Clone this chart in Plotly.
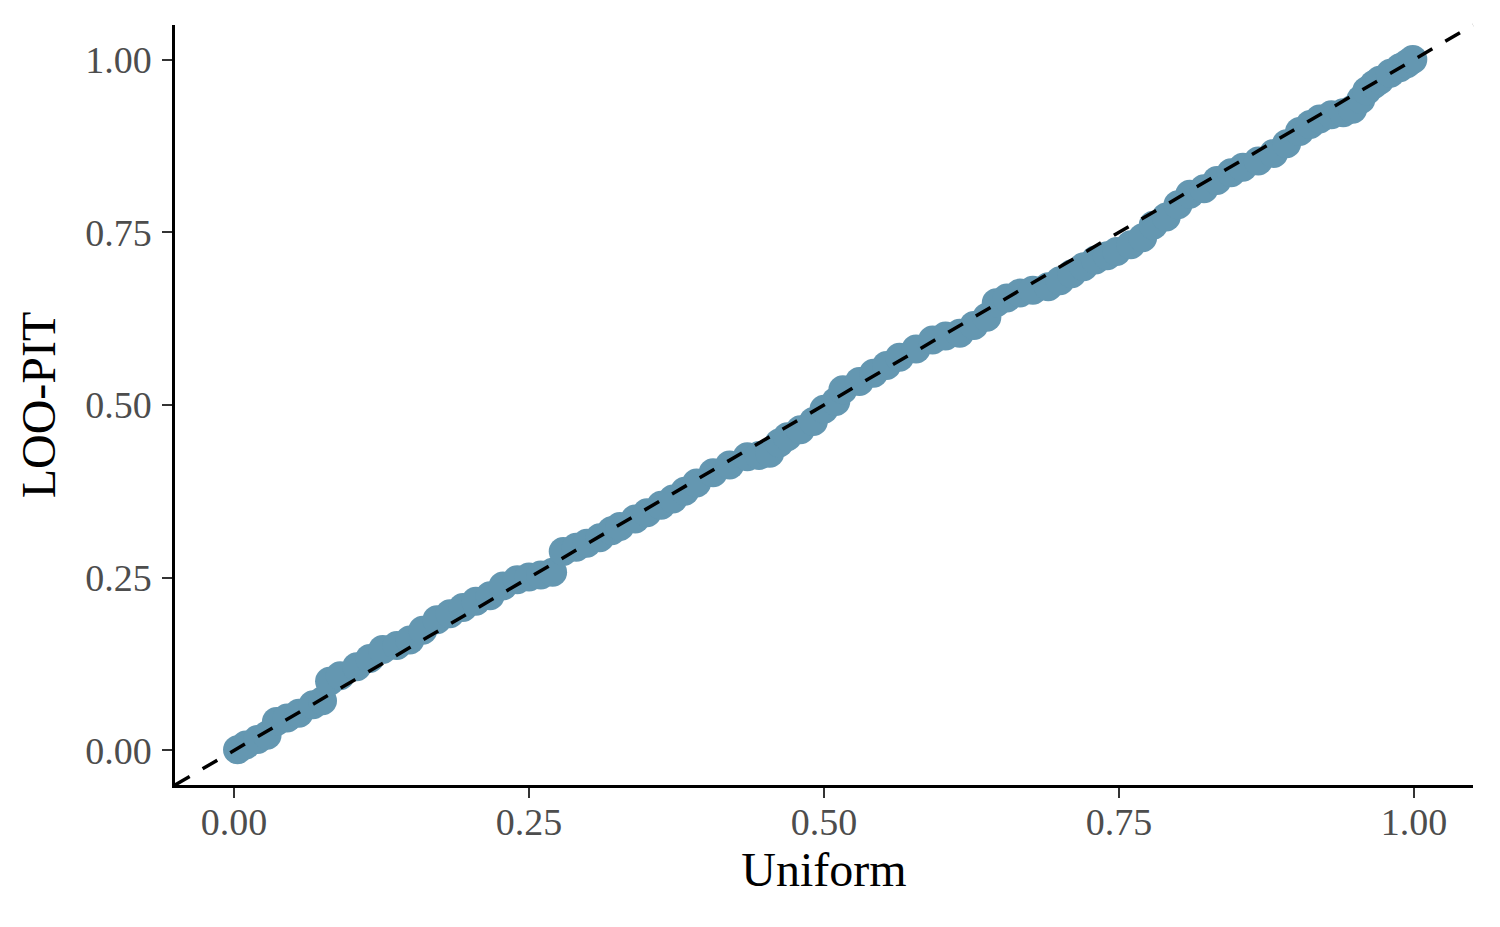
import plotly.graph_objects as go

uniform_q = [0.003, 0.010, 0.020, 0.028, 0.036, 0.045, 0.055, 0.067, 0.075, 0.081,
             0.090, 0.104, 0.115, 0.126, 0.138, 0.149, 0.160, 0.172, 0.183, 0.194,
             0.205, 0.217, 0.228, 0.240, 0.250, 0.260, 0.270, 0.279, 0.290, 0.299,
             0.310, 0.320, 0.327, 0.340, 0.350, 0.362, 0.372, 0.382, 0.392, 0.406,
             0.420, 0.435, 0.445, 0.454, 0.462, 0.469, 0.480, 0.491, 0.500, 0.510,
             0.516, 0.530, 0.542, 0.553, 0.564, 0.578, 0.592, 0.603, 0.615, 0.627,
             0.638, 0.646, 0.655, 0.666, 0.677, 0.690, 0.700, 0.710, 0.720, 0.730,
             0.740, 0.748, 0.760, 0.770, 0.779, 0.790, 0.800, 0.810, 0.822, 0.833,
             0.845, 0.855, 0.868, 0.881, 0.892, 0.903, 0.912, 0.920, 0.930, 0.940,
             0.948, 0.955, 0.960, 0.966, 0.971, 0.980, 0.988, 0.994, 0.999]
loo_pit = [0.001, 0.008, 0.016, 0.022, 0.042, 0.047, 0.054, 0.066, 0.072, 0.100,
           0.108, 0.121, 0.133, 0.146, 0.152, 0.160, 0.174, 0.189, 0.198, 0.207,
           0.216, 0.224, 0.238, 0.247, 0.251, 0.254, 0.258, 0.288, 0.294, 0.300,
           0.308, 0.318, 0.324, 0.335, 0.344, 0.355, 0.364, 0.375, 0.387, 0.402,
           0.413, 0.425, 0.427, 0.430, 0.445, 0.454, 0.464, 0.476, 0.494, 0.505,
           0.522, 0.534, 0.546, 0.557, 0.569, 0.581, 0.594, 0.600, 0.604, 0.615,
           0.627, 0.648, 0.655, 0.662, 0.666, 0.671, 0.680, 0.690, 0.700, 0.710,
           0.716, 0.722, 0.732, 0.742, 0.760, 0.772, 0.790, 0.805, 0.813, 0.825,
           0.836, 0.844, 0.853, 0.864, 0.878, 0.896, 0.906, 0.914, 0.920, 0.923,
           0.928, 0.942, 0.955, 0.964, 0.970, 0.980, 0.988, 0.994, 1.000]

tick_vals = [0.0, 0.25, 0.5, 0.75, 1.0]
tick_text = ["0.00", "0.25", "0.50", "0.75", "1.00"]
axis_range = [-0.05, 1.05]

point_color = "#6497b1"
font_family = "Liberation Serif, Times New Roman, serif"

fig = go.Figure()
fig.add_trace(go.Scatter(
    x=uniform_q, y=loo_pit, mode="markers",
    marker=dict(size=29, color=point_color, line=dict(width=0)),
    showlegend=False, hoverinfo="x+y"))

# identity reference line (y = x) across the full panel
fig.add_shape(type="line", xref="x domain", yref="y domain",
              x0=0, y0=0, x1=1, y1=1,
              line=dict(color="black", width=3.5, dash="17px,15px"), layer="above")

axis_common = dict(
    range=axis_range, tickvals=tick_vals, ticktext=tick_text,
    showgrid=False, zeroline=False, showline=True, linecolor="black", linewidth=2.5,
    ticks="outside", ticklen=10, tickwidth=1.8, tickcolor="#333333",
    tickfont=dict(family=font_family, size=38, color="#4d4d4d"),
)

fig.update_xaxes(**axis_common, ticklabelstandoff=-8,
                 title=dict(text="Uniform", font=dict(family=font_family, size=48, color="black"),
                            standoff=10))
fig.update_yaxes(**axis_common, ticklabelstandoff=3,
                 title=dict(text="LOO-PIT", font=dict(family=font_family, size=48, color="black"),
                            standoff=15))

# the page body adds an 8px margin around the figure
fig.update_layout(
    width=1484, height=911,
    margin=dict(l=167, r=19, t=17, b=134),
    plot_bgcolor="white", paper_bgcolor="white",
    font=dict(family=font_family),
)

fig.write_html("out.html")
